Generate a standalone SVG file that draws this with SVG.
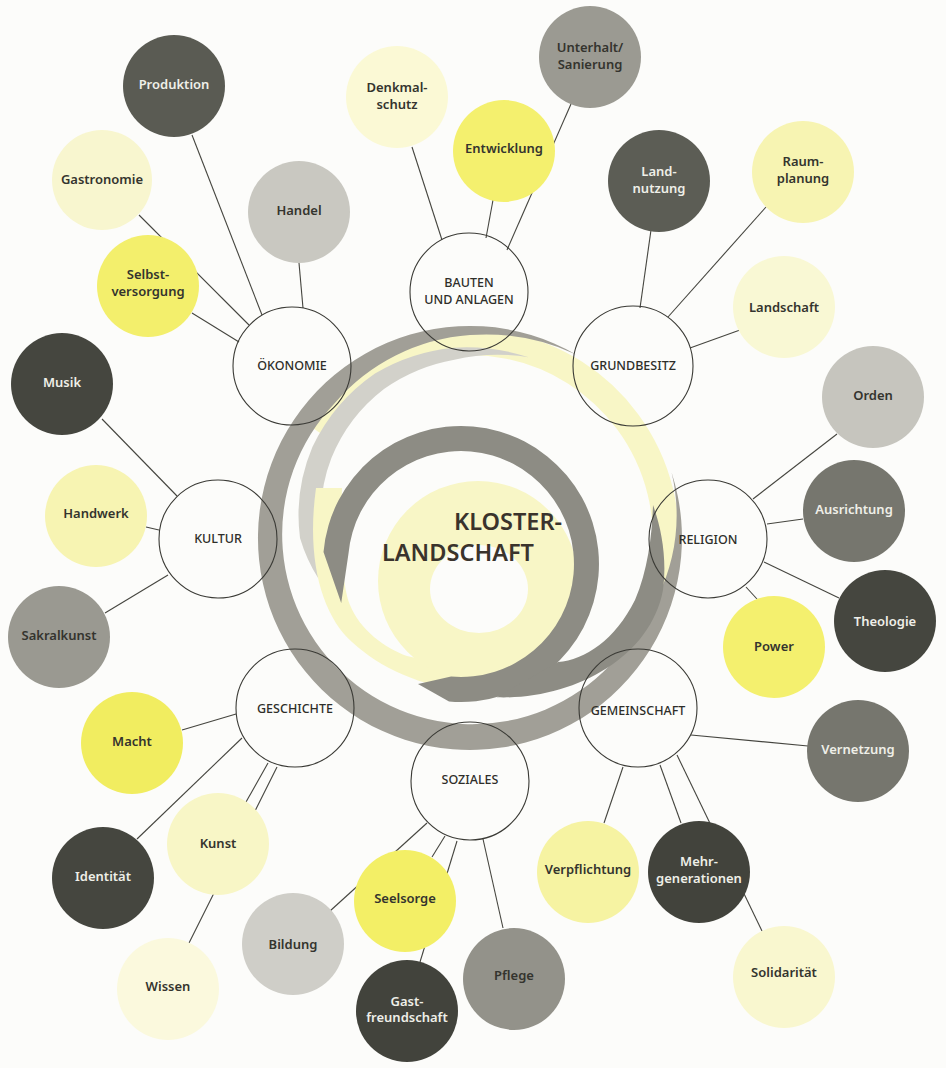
<svg xmlns="http://www.w3.org/2000/svg" width="946" height="1068" viewBox="0 0 946 1068">
<style>
.leaf text{font-family:"Noto Sans","Open Sans",sans-serif;font-size:13px;font-weight:600;text-anchor:middle}
.dk text{fill:#efefe8}
.lt text{fill:#34342e}
.hub circle{fill:none;stroke:#3a3a35;stroke-width:1.1}
.hub text{font-family:"Noto Sans","Open Sans",sans-serif;font-size:12.5px;font-weight:500;text-anchor:middle;fill:#2e2e29}
#connectors line{stroke:#45453f;stroke-width:1.1}
.title{font-family:"Noto Sans","Open Sans",sans-serif;font-size:23.5px;font-weight:600;fill:#3a332c}
</style>
<rect width="946" height="1068" fill="#fcfcfa"/>
<g id="spiral">
  <path d="M 309.4 425.6 A 196 196 0 0 1 639.7 636" fill="none" stroke="#f8f6c6" stroke-width="26"/>
  <path d="M 528.7 357.3 A 200 200 0 0 0 453.4 347.7 A 190 190 0 0 0 375 373.5 A 186 186 0 0 0 312.4 447 A 176 176 0 0 0 300 538 A 165 165 0 0 0 318.4 578.6 A 150 150 0 0 1 323 538 A 154 154 0 0 1 331.4 458 A 166 166 0 0 1 384 389 A 175 175 0 0 1 454.4 359.7 A 190 190 0 0 1 528.7 357.3 Z" fill="#d2d1ca"/>
  <path d="M 316 488 C 306 560, 322 615, 352 642 C 380 668, 420 686, 470 692 L 470 670 L 407 656 C 385 648, 360 630, 350 605 C 342 585, 340 540, 342 488 Z" fill="#f8f6c6"/>
  <circle cx="478" cy="581" r="100" fill="#f8f6c6"/>
  <ellipse cx="479" cy="589" rx="49" ry="44" fill="#fcfcfa"/>
  <path d="M 576 354.4 A 212 212 0 1 0 671.6 472.5 A 185 185 0 0 1 634.5 633 A 190 190 0 1 1 334.9 402.9 A 197 197 0 0 1 470 335 A 215 215 0 0 1 576 354.4 Z" fill="#a19f97"/>
  <path d="M 341.2 602.9 L 323.5 552 A 138 138 0 1 1 449 701.5 L 418 684 L 451.1 676.6 A 113 113 0 1 0 348.4 554.2 Z" fill="#8d8c84"/>
  <path d="M 496.7 697.3 C 570 700, 650 660, 663 590 C 667 560, 662 530, 653 505 C 652 535, 648 570, 635 600 C 615 640, 585 660, 558 662 Z" fill="#8d8c84"/>
</g>
<g id="connectors">
  <line x1="192" y1="135" x2="262" y2="315"/>
  <line x1="299" y1="263" x2="303" y2="308"/>
  <line x1="139" y1="215" x2="249" y2="325"/>
  <line x1="192" y1="313" x2="239" y2="342"/>
  <line x1="412" y1="147" x2="442" y2="240"/>
  <line x1="493" y1="200" x2="486" y2="238"/>
  <line x1="571" y1="104" x2="507" y2="250"/>
  <line x1="651" y1="230" x2="640" y2="308"/>
  <line x1="766" y1="207" x2="668" y2="317"/>
  <line x1="740" y1="330" x2="690" y2="348"/>
  <line x1="102" y1="419" x2="177" y2="496"/>
  <line x1="146" y1="527" x2="159" y2="530"/>
  <line x1="105" y1="613" x2="168" y2="575"/>
  <line x1="837" y1="434" x2="753" y2="499"/>
  <line x1="803" y1="519" x2="767" y2="524"/>
  <line x1="839" y1="598" x2="764" y2="562"/>
  <line x1="757" y1="599" x2="746" y2="587"/>
  <line x1="182" y1="730" x2="236" y2="714"/>
  <line x1="137" y1="839" x2="242" y2="738"/>
  <line x1="246" y1="802" x2="268" y2="763"/>
  <line x1="189" y1="943" x2="277" y2="767"/>
  <line x1="330" y1="911" x2="427" y2="823"/>
  <line x1="432" y1="857" x2="445" y2="836"/>
  <line x1="420" y1="962" x2="457" y2="841"/>
  <line x1="483" y1="839" x2="503" y2="928"/>
  <line x1="691" y1="735" x2="808" y2="746"/>
  <line x1="623" y1="767" x2="604" y2="823"/>
  <line x1="660" y1="765" x2="681" y2="823"/>
  <line x1="677" y1="755" x2="762" y2="931"/>
</g>
<g id="n-produktion" class="leaf dk"><circle cx="174" cy="86" r="51" fill="#5a5b53"/><text x="174" y="89">Produktion</text></g>
<g id="n-gastronomie" class="leaf lt"><circle cx="102" cy="180" r="50" fill="#f8f6cf"/><text x="102" y="184">Gastronomie</text></g>
<g id="n-handel" class="leaf lt"><circle cx="299" cy="212" r="51" fill="#c9c8c1"/><text x="299" y="215">Handel</text></g>
<g id="n-selbstversorgung" class="leaf lt"><circle cx="148" cy="286" r="51" fill="#f3ef6c"/><text x="148" y="279">Selbst-</text><text x="148" y="296">versorgung</text></g>
<g id="n-denkmalschutz" class="leaf lt"><circle cx="397" cy="97" r="51" fill="#fbf9d5"/><text x="397" y="92">Denkmal-</text><text x="397" y="109">schutz</text></g>
<g id="n-entwicklung" class="leaf lt"><circle cx="504" cy="151" r="51" fill="#f4f06e"/><text x="504" y="153">Entwicklung</text></g>
<g id="n-unterhalt" class="leaf lt"><circle cx="590" cy="57" r="51" fill="#9b9a92"/><text x="590" y="52">Unterhalt/</text><text x="590" y="69">Sanierung</text></g>
<g id="n-landnutzung" class="leaf dk"><circle cx="659" cy="181" r="51" fill="#5c5d55"/><text x="659" y="176">Land-</text><text x="659" y="193">nutzung</text></g>
<g id="n-raumplanung" class="leaf lt"><circle cx="803" cy="172" r="51" fill="#f7f4b2"/><text x="803" y="166">Raum-</text><text x="803" y="183">planung</text></g>
<g id="n-landschaft" class="leaf lt"><circle cx="784" cy="307" r="51" fill="#f9f8d4"/><text x="784" y="312">Landschaft</text></g>
<g id="n-musik" class="leaf dk"><circle cx="62" cy="384" r="51" fill="#45463f"/><text x="62" y="387">Musik</text></g>
<g id="n-handwerk" class="leaf lt"><circle cx="96" cy="516" r="51" fill="#f7f4b2"/><text x="96" y="518">Handwerk</text></g>
<g id="n-sakralkunst" class="leaf lt"><circle cx="59" cy="637" r="51" fill="#9a9991"/><text x="59" y="640">Sakralkunst</text></g>
<g id="n-orden" class="leaf lt"><circle cx="873" cy="397" r="51" fill="#c6c5be"/><text x="873" y="400">Orden</text></g>
<g id="n-ausrichtung" class="leaf dk"><circle cx="854" cy="511" r="51" fill="#76766e"/><text x="854" y="514">Ausrichtung</text></g>
<g id="n-theologie" class="leaf dk"><circle cx="885" cy="621" r="51" fill="#45463f"/><text x="885" y="626">Theologie</text></g>
<g id="n-power" class="leaf lt"><circle cx="774" cy="647" r="51" fill="#f4f06e"/><text x="774" y="651">Power</text></g>
<g id="n-vernetzung" class="leaf dk"><circle cx="858" cy="751" r="51" fill="#76766e"/><text x="858" y="754">Vernetzung</text></g>
<g id="n-verpflichtung" class="leaf lt"><circle cx="588" cy="872" r="51" fill="#f6f3a2"/><text x="588" y="874">Verpflichtung</text></g>
<g id="n-mehrgenerationen" class="leaf dk"><circle cx="699" cy="872" r="51" fill="#42433c"/><text x="699" y="866">Mehr-</text><text x="699" y="883">generationen</text></g>
<g id="n-solidaritaet" class="leaf lt"><circle cx="784" cy="977" r="51" fill="#f9f7cf"/><text x="784" y="977">Solidarität</text></g>
<g id="n-pflege" class="leaf lt"><circle cx="514" cy="979" r="51" fill="#93928a"/><text x="514" y="980">Pflege</text></g>
<g id="n-seelsorge" class="leaf lt"><circle cx="405" cy="901" r="51" fill="#f3ef66"/><text x="405" y="903">Seelsorge</text></g>
<g id="n-gastfreundschaft" class="leaf dk"><circle cx="407" cy="1011" r="51" fill="#42433c"/><text x="407" y="1006">Gast-</text><text x="407" y="1022">freundschaft</text></g>
<g id="n-bildung" class="leaf lt"><circle cx="293" cy="944" r="51" fill="#cfcec8"/><text x="293" y="949">Bildung</text></g>
<g id="n-macht" class="leaf lt"><circle cx="132" cy="743" r="51" fill="#f1ed60"/><text x="132" y="746">Macht</text></g>
<g id="n-kunst" class="leaf lt"><circle cx="218" cy="844" r="51" fill="#f8f6c6"/><text x="218" y="848">Kunst</text></g>
<g id="n-identitaet" class="leaf dk"><circle cx="103" cy="878" r="51" fill="#45463f"/><text x="103" y="881">Identität</text></g>
<g id="n-wissen" class="leaf lt"><circle cx="168" cy="989" r="51" fill="#fbf9dd"/><text x="168" y="991">Wissen</text></g>
<g id="h-oekonomie" class="hub"><circle cx="292" cy="366" r="59"/><text x="292" y="370">ÖKONOMIE</text></g>
<g id="h-bauten" class="hub"><circle cx="469" cy="292" r="59"/><text x="469" y="287">BAUTEN</text><text x="469" y="304">UND ANLAGEN</text></g>
<g id="h-grundbesitz" class="hub"><circle cx="633" cy="366" r="60"/><text x="633" y="370">GRUNDBESITZ</text></g>
<g id="h-kultur" class="hub"><circle cx="218" cy="539" r="59"/><text x="218" y="543">KULTUR</text></g>
<g id="h-religion" class="hub"><circle cx="708" cy="539" r="59"/><text x="708" y="544">RELIGION</text></g>
<g id="h-geschichte" class="hub"><circle cx="295" cy="708" r="59"/><text x="295" y="713">GESCHICHTE</text></g>
<g id="h-gemeinschaft" class="hub"><circle cx="638" cy="708" r="59"/><text x="638" y="715">GEMEINSCHAFT</text></g>
<g id="h-soziales" class="hub"><circle cx="470" cy="781" r="59"/><text x="470" y="784">SOZIALES</text></g>
<g id="center-title">
  <text class="title" x="454" y="530">KLOSTER-</text>
  <text class="title" x="382" y="561">LANDSCHAFT</text>
</g>
</svg>
